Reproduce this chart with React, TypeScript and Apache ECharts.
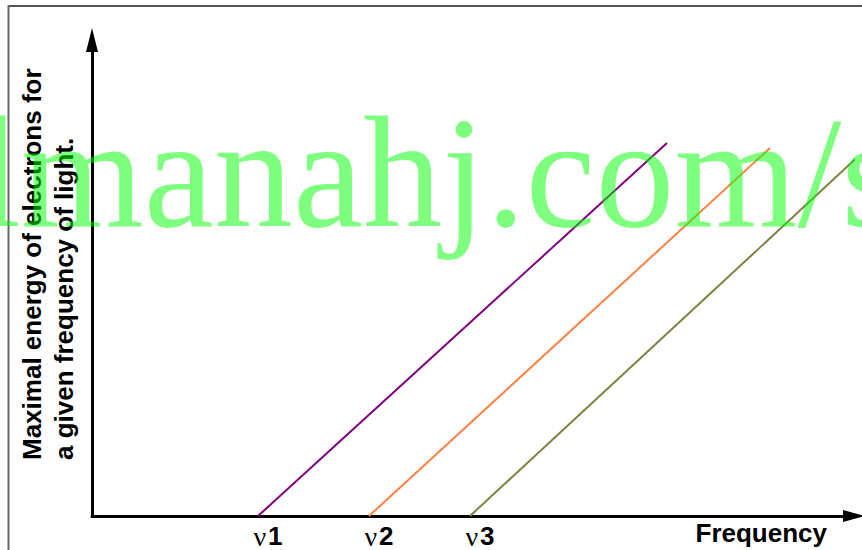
import React, { useEffect, useRef } from 'react';
import * as echarts from 'echarts';

// ---- data ----
const thresholdFreqs = [16.6, 27.7, 37.8];
const thresholdLabels = ['1', '2', '3'];
const seriesNames = ['Metal 1', 'Metal 2', 'Metal 3'];
const seriesColors = ['#800080', '#ff7f3f', '#808040'];
const purpleLine = [[16.6, 0], [57.5, 37.3]];
const orangeLine = [[27.7, 0], [67.8, 36.8]];
const oliveLine = [[37.8, 0], [77.0, 36.3]];
const xAxisTitle = 'Frequency';
const yAxisTitle = ['Maximal energy of electrons for', 'a given frequency of light.'];
const watermark = 'lmanahj.com/s';
const xMax = 76.2;
const yMax = 47.6;

export default function App() {
  const ref = useRef<HTMLDivElement>(null);

  useEffect(() => {
    if (!ref.current) return;
    const chart = echarts.init(ref.current, undefined, { renderer: 'svg' });
    const lines = [purpleLine, orangeLine, oliveLine];
    const option: any = {
      animation: false,
      backgroundColor: '#ffffff',
      grid: { left: 92, right: 8, top: 40, bottom: 34, containLabel: false },
      xAxis: {
        type: 'value',
        min: 0,
        max: xMax,
        splitLine: { show: false },
        axisTick: { show: false },
        axisLine: {
          show: true,
          onZero: false,
          symbol: ['none', 'triangle'],
          symbolSize: [12, 22],
          lineStyle: { color: '#000', width: 3 },
        },
        axisLabel: {
          customValues: thresholdFreqs,
          margin: 5,
          formatter: (v: number) => {
            const i = thresholdFreqs.indexOf(v);
            return '{nu|\u03bd}{n|' + (i >= 0 ? thresholdLabels[i] : '') + '}';
          },
          rich: {
            nu: {
              fontFamily: '"Liberation Serif", serif',
              fontSize: 28,
              color: '#000',
              lineHeight: 30,
              padding: [0, 2, 0, 20],
            },
            n: {
              fontFamily: '"Liberation Sans", Arial, sans-serif',
              fontWeight: 'bold',
              fontSize: 26,
              color: '#000',
              lineHeight: 30,
            },
          },
        },
        name: xAxisTitle,
        nameLocation: 'end',
        nameGap: -27,
        nameTextStyle: {
          fontFamily: '"Liberation Sans", Arial, sans-serif',
          fontWeight: 'bold',
          fontSize: 26,
          color: '#000',
          align: 'right',
          verticalAlign: 'top',
          lineHeight: 30,
          padding: [2, 0, 0, 0],
        },
      },
      yAxis: {
        type: 'value',
        min: 0,
        max: yMax,
        splitLine: { show: false },
        axisTick: { show: false },
        axisLabel: { show: false },
        axisLine: {
          show: true,
          onZero: false,
          symbol: ['none', 'triangle'],
          symbolSize: [12, 24],
          lineStyle: { color: '#000', width: 3 },
        },
      },
      series: lines.map((d, i) => ({
        type: 'line',
        name: seriesNames[i],
        data: d,
        clip: false,
        showSymbol: false,
        symbol: 'none',
        lineStyle: { color: seriesColors[i], width: 2 },
        z: 3,
      })),
      graphic: [
        {
          type: 'line',
          shape: { x1: 8.5, y1: 6, x2: 862, y2: 6 },
          style: { stroke: '#555', lineWidth: 2 },
          z: 1,
        },
        {
          type: 'line',
          shape: { x1: 8.5, y1: 5, x2: 8.5, y2: 550 },
          style: { stroke: '#666', lineWidth: 2 },
          z: 1,
        },
        {
          type: 'text',
          x: 16,
          y: 460,
          rotation: Math.PI / 2,
          z: 5,
          style: {
            text: yAxisTitle.join('\n'),
            font: 'bold 26px "Liberation Sans", Arial, sans-serif',
            fill: '#000',
            align: 'left',
            verticalAlign: 'top',
            lineHeight: 32,
          },
        },
        {
          type: 'text',
          x: -23,
          y: 172,
          z: 100,
          silent: true,
          style: {
            text: watermark,
            font: '158px "Liberation Serif", serif',
            fill: 'rgba(0,255,0,0.5)',
            align: 'left',
            verticalAlign: 'middle',
          },
        },
      ],
    };
    chart.setOption(option);
    return () => chart.dispose();
  }, []);

  return (
    <div
      ref={ref}
      style={{ position: 'absolute', left: 0, top: 0, width: 862, height: 550, background: '#fff' }}
    />
  );
}
